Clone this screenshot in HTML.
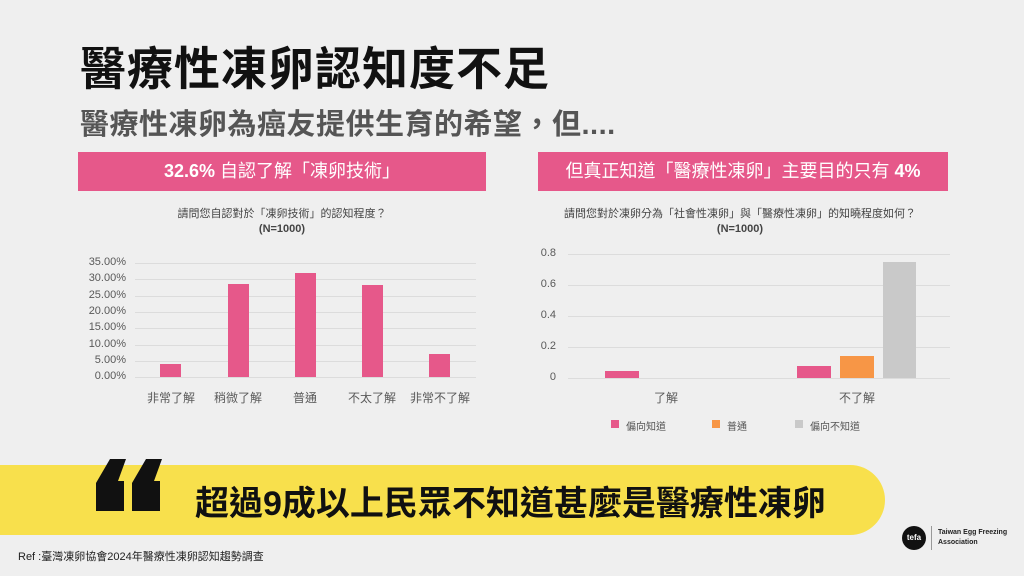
<!DOCTYPE html>
<html><head><meta charset="utf-8"><style>
*{margin:0;padding:0;box-sizing:border-box}
body{width:1024px;height:576px;background:#efefef;position:relative;overflow:hidden;font-family:"Liberation Sans","Noto Sans CJK TC",sans-serif;color:#111}
.a{position:absolute;white-space:nowrap}
.pink{background:#e6588a;color:#fff;font-size:18px;text-align:center;line-height:39px;height:39px;top:152px}
.g{position:absolute;height:1px;background:#dcdcdc}
.yl{position:absolute;font-size:11px;color:#595959;text-align:right}
.xl{position:absolute;font-size:12px;color:#595959;text-align:center}
.b{position:absolute;background:#e6588a}
</style></head><body>
<div class="a" style="left:80px;top:33px;font-size:46px;font-weight:bold;letter-spacing:1px">醫療性凍卵認知度不足</div>
<div class="a" style="left:80px;top:101px;font-size:29px;font-weight:bold;color:#555;letter-spacing:0.5px">醫療性凍卵為癌友提供生育的希望，但....</div>
<div class="a pink" style="left:78px;width:408px"><b>32.6%</b> 自認了解「凍卵技術」</div>
<div class="a pink" style="left:538px;width:410px">但真正知道「醫療性凍卵」主要目的只有 <b>4%</b></div>

<div class="a" style="left:78px;width:408px;top:207px;text-align:center;font-size:11px;color:#444;line-height:15px">請問您自認對於「凍卵技術」的認知程度？<br><b>(N=1000)</b></div>
<div class="g" style="left:135px;width:341px;top:263px"></div>
<div class="g" style="left:135px;width:341px;top:279px"></div>
<div class="g" style="left:135px;width:341px;top:296px"></div>
<div class="g" style="left:135px;width:341px;top:312px"></div>
<div class="g" style="left:135px;width:341px;top:328px"></div>
<div class="g" style="left:135px;width:341px;top:345px"></div>
<div class="g" style="left:135px;width:341px;top:361px"></div>
<div class="g" style="left:135px;width:341px;top:377px"></div>
<div class="yl" style="left:70px;width:56px;top:256px">35.00%</div>
<div class="yl" style="left:70px;width:56px;top:272px">30.00%</div>
<div class="yl" style="left:70px;width:56px;top:289px">25.00%</div>
<div class="yl" style="left:70px;width:56px;top:305px">20.00%</div>
<div class="yl" style="left:70px;width:56px;top:321px">15.00%</div>
<div class="yl" style="left:70px;width:56px;top:338px">10.00%</div>
<div class="yl" style="left:70px;width:56px;top:354px">5.00%</div>
<div class="yl" style="left:70px;width:56px;top:370px">0.00%</div>
<div class="b" style="left:160px;width:21px;top:364px;height:13px"></div>
<div class="b" style="left:228px;width:21px;top:284px;height:93px"></div>
<div class="b" style="left:295px;width:21px;top:273px;height:104px"></div>
<div class="b" style="left:362px;width:21px;top:285px;height:92px"></div>
<div class="b" style="left:429px;width:21px;top:354px;height:23px"></div>
<div class="xl" style="left:136px;width:70px;top:389px">非常了解</div>
<div class="xl" style="left:203px;width:70px;top:389px">稍微了解</div>
<div class="xl" style="left:270px;width:70px;top:389px">普通</div>
<div class="xl" style="left:337px;width:70px;top:389px">不太了解</div>
<div class="xl" style="left:405px;width:70px;top:389px">非常不了解</div>

<div class="a" style="left:530px;width:420px;top:207px;text-align:center;font-size:11px;color:#444;line-height:15px">請問您對於凍卵分為「社會性凍卵」與「醫療性凍卵」的知曉程度如何？<br><b>(N=1000)</b></div>
<div class="g" style="left:568px;width:382px;top:254px"></div>
<div class="g" style="left:568px;width:382px;top:285px"></div>
<div class="g" style="left:568px;width:382px;top:316px"></div>
<div class="g" style="left:568px;width:382px;top:347px"></div>
<div class="g" style="left:568px;width:382px;top:378px"></div>
<div class="yl" style="left:520px;width:36px;top:247px">0.8</div>
<div class="yl" style="left:520px;width:36px;top:278px">0.6</div>
<div class="yl" style="left:520px;width:36px;top:309px">0.4</div>
<div class="yl" style="left:520px;width:36px;top:340px">0.2</div>
<div class="yl" style="left:520px;width:36px;top:371px">0</div>
<div class="b" style="left:605px;width:34px;top:371px;height:7px"></div>
<div class="b" style="left:797px;width:34px;top:366px;height:12px"></div>
<div class="b" style="left:840px;width:34px;top:356px;height:22px;background:#f79646"></div>
<div class="b" style="left:883px;width:33px;top:262px;height:116px;background:#c9c9c9"></div>
<div class="xl" style="left:636px;width:60px;top:389px">了解</div>
<div class="xl" style="left:827px;width:60px;top:389px">不了解</div>
<div class="b" style="left:611px;top:420px;width:8px;height:8px"></div>
<div class="a" style="left:626px;top:418px;font-size:10px;color:#555">偏向知道</div>
<div class="b" style="left:712px;top:420px;width:8px;height:8px;background:#f79646"></div>
<div class="a" style="left:727px;top:418px;font-size:10px;color:#555">普通</div>
<div class="b" style="left:795px;top:420px;width:8px;height:8px;background:#c9c9c9"></div>
<div class="a" style="left:810px;top:418px;font-size:10px;color:#555">偏向不知道</div>

<div class="a" style="left:0;top:465px;width:885px;height:70px;background:#f8e04c;border-radius:0 35px 35px 0"></div>
<svg class="a" style="left:96px;top:459px" width="66" height="52" viewBox="0 0 66 52">
<path d="M14 0 H30 L22 22 H28 V52 H0 V24 Z" fill="#111"/>
<path d="M50 0 H66 L58 22 H64 V52 H36 V24 Z" fill="#111"/>
</svg>
<div class="a" style="left:195px;top:476px;font-size:34px;font-weight:bold">超過9成以上民眾不知道甚麼是醫療性凍卵</div>
<div class="a" style="left:18px;top:548px;font-size:11px;color:#222">Ref :臺灣凍卵協會2024年醫療性凍卵認知趨勢調查</div>
<div class="a" style="left:902px;top:526px;width:24px;height:24px;border-radius:50%;background:#111;color:#fff;font-size:8px;font-weight:bold;text-align:center;line-height:24px">tefa</div>
<div class="a" style="left:931px;top:526px;width:1px;height:24px;background:#999"></div>
<div class="a" style="left:938px;top:528px;font-size:7px;font-weight:bold;line-height:10px;color:#222">Taiwan Egg Freezing<br>Association</div>
</body></html>
